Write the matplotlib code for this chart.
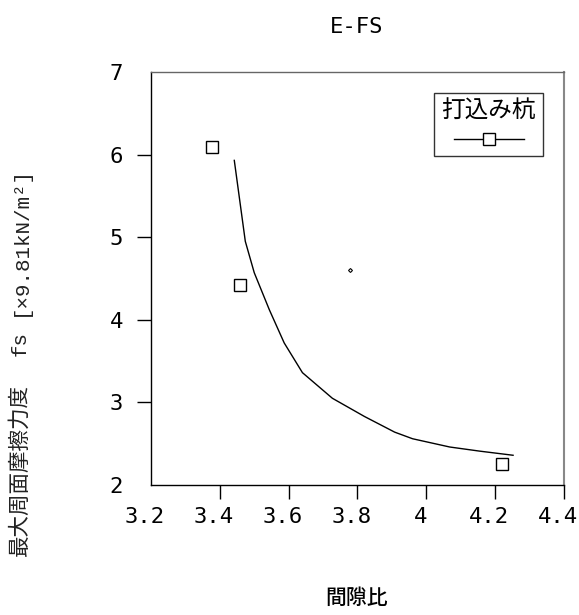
import matplotlib
matplotlib.use("Agg")
import matplotlib.pyplot as plt
import matplotlib.transforms as mtransforms
from matplotlib.lines import Line2D

plt.rcParams['font.family'] = ['Noto Sans CJK JP', 'DejaVu Sans']

# Data
pt_x = [3.378, 3.459, 4.219]
pt_y = [6.09, 4.42, 2.254]
curve_x = [3.442, 3.474, 3.50, 3.544, 3.587, 3.64, 3.727, 3.82, 3.908, 3.96, 4.068, 4.155, 4.252]
curve_y = [5.93, 4.95, 4.57, 4.12, 3.72, 3.36, 3.05, 2.83, 2.64, 2.56, 2.46, 2.41, 2.36]
dot_x = [3.777]
dot_y = [4.60]
x_ticks = [3.2, 3.4, 3.6, 3.8, 4.0, 4.2, 4.4]
x_labels = ["3.2", "3.4", "3.6", "3.8", "4", "4.2", "4.4"]
y_ticks = [2, 3, 4, 5, 6, 7]
y_labels = ["2", "3", "4", "5", "6", "7"]
title = "E-FS"
xlabel = "間隙比"
ylabel_jp = "最大周面摩擦力度"
ylabel_sym = "fs"
ylabel_unit = "[×9.81kN/m²]"
legend_title = "打込み杭"

fig = plt.figure(figsize=(5.79, 6.15), dpi=100)
ax = fig.add_axes([151/579, 1-485/615, 413/579, 413/615])

ax.plot(curve_x, curve_y, color='black', lw=1.0)
ax.plot(pt_x, pt_y, linestyle='none', marker='s', markersize=8,
        markerfacecolor='white', markeredgecolor='black', markeredgewidth=1.0)
ax.plot(dot_x, dot_y, linestyle='none', marker='D', markersize=2,
        markerfacecolor='white', markeredgecolor='black', markeredgewidth=0.8)

ax.set_xlim(3.2, 4.4)
ax.set_ylim(2, 7)
ax.set_xticks(x_ticks)
ax.set_xticklabels(x_labels, family='DejaVu Sans Mono', fontsize=16)
ax.set_yticks(y_ticks)
ax.set_yticklabels(y_labels, family='DejaVu Sans Mono', fontsize=16)
ax.tick_params(axis='both', direction='out', length=10, width=1, color='black')
ax.tick_params(axis='x', pad=6)
ax.tick_params(axis='y', pad=10)

# shift x tick labels slightly left as in reference
offset = mtransforms.ScaledTranslation(-6/100, 0, fig.dpi_scale_trans)
for lbl in ax.get_xticklabels():
    lbl.set_transform(lbl.get_transform() + offset)

# hide tick marks at the corners
xt = ax.xaxis.get_major_ticks()
xt[0].tick1line.set_visible(False)
xt[-1].tick1line.set_color('#888888')
yt = ax.yaxis.get_major_ticks()
yt[0].tick1line.set_visible(False)
yt[-1].tick1line.set_visible(False)

for s in ['left', 'bottom']:
    ax.spines[s].set_color('black')
    ax.spines[s].set_linewidth(1.0)
ax.spines['right'].set_color('#888888')
ax.spines['right'].set_linewidth(1.5)
ax.spines['top'].set_color('#666666')
ax.spines['top'].set_linewidth(1.0)

handle = Line2D([], [], color='black', lw=1.0, marker='s', markersize=8,
                markerfacecolor='white', markeredgecolor='black')
leg = ax.legend([handle], [''], title=legend_title, loc='upper right',
                bbox_to_anchor=(0.950, 0.950), frameon=True, fancybox=False,
                edgecolor='black', handlelength=4.2, handletextpad=0,
                borderpad=0.45, title_fontsize=17, fontsize=12,
                borderaxespad=0)
leg.get_frame().set_linewidth(1.0)

fig.text(357/579, 1-27/615, title, ha='center', va='center', fontsize=16,
         family='DejaVu Sans Mono')
fig.text(357/579, 1-598/615, xlabel, ha='center', va='center', fontsize=15,
         weight='medium')
fig.text(20/579, 1-470/615, ylabel_jp, ha='center', va='center', rotation=90,
         fontsize=15.5, color='#222222')
fig.text(20/579, 1-343/615, ylabel_sym, ha='center', va='center', rotation=90,
         fontsize=15, color='#222222', family=['Liberation Mono', 'DejaVu Sans Mono'])
fig.text(20/579, 1-241/615, ylabel_unit, ha='center', va='center', rotation=90,
         fontsize=15, color='#222222', family=['Liberation Mono', 'DejaVu Sans Mono'])

fig.savefig('out.png', dpi=100)
